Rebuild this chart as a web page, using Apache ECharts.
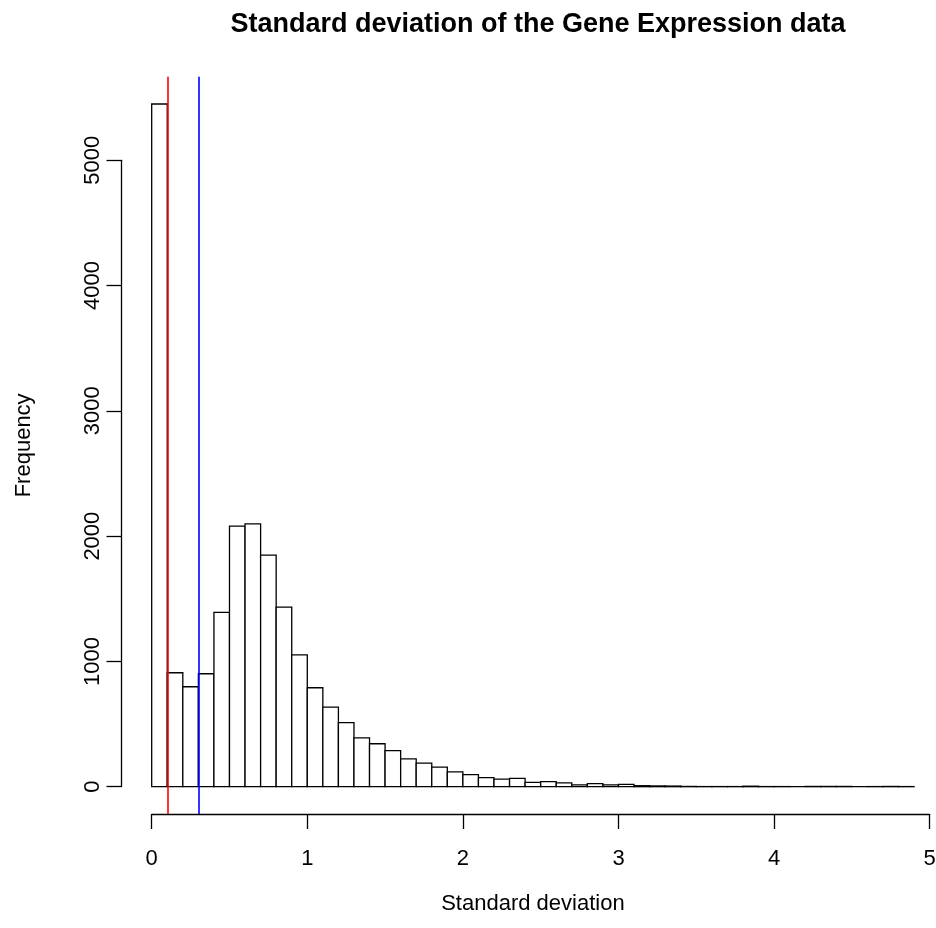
<!DOCTYPE html>
<html><head><meta charset="utf-8">
<script src="https://cdn.jsdelivr.net/npm/echarts@6/dist/echarts.min.js"></script>
<style>html,body{margin:0;padding:0;background:#fff}#c{width:936px;height:928px}</style>
</head><body><div id="c"></div>
<script>
// Histogram bins (bin width 0.1)
const binStarts = [0.0,0.1,0.2,0.3,0.4,0.5,0.6,0.7,0.8,0.9,1.0,1.1,1.2,1.3,1.4,1.5,1.6,1.7,1.8,1.9,2.0,2.1,2.2,2.3,2.4,2.5,2.6,2.7,2.8,2.9,3.0,3.1,3.2,3.3,3.4,3.5,3.6,3.7,3.8,3.9,4.0,4.1,4.2,4.3,4.4,4.5,4.6,4.7,4.8];
const binEnds   = [0.1,0.2,0.3,0.4,0.5,0.6,0.7,0.8,0.9,1.0,1.1,1.2,1.3,1.4,1.5,1.6,1.7,1.8,1.9,2.0,2.1,2.2,2.3,2.4,2.5,2.6,2.7,2.8,2.9,3.0,3.1,3.2,3.3,3.4,3.5,3.6,3.7,3.8,3.9,4.0,4.1,4.2,4.3,4.4,4.5,4.6,4.7,4.8,4.9];
const counts    = [5452,910,798,902,1392,2081,2099,1849,1434,1052,790,635,511,390,343,288,222,189,156,118,97,73,60,66,35,40,30,14,24,14,19,8,6,5,2,1,1,1,4,1,1,0,2,2,2,0,1,2,1];
const xTickValues = [0,1,2,3,4,5];
const yTickValues = [0,1000,2000,3000,4000,5000];
const cutoffs = [0.1, 0.3];
const cutoffColors = ['#FF0000', '#0000FF'];
const titleText = 'Standard deviation of the Gene Expression data';
const xLabel = 'Standard deviation';
const yLabel = 'Frequency';

const FONT = '"Liberation Sans", Arial, Helvetica, sans-serif';
const histData = binStarts.map((s, i) => [s, binEnds[i], counts[i]]);
const maxCount = Math.max(...counts);
const xLo = binStarts[0], xHi = binEnds[binEnds.length - 1];
const xPad = 0.04 * (xHi - xLo);
const yPad = 0.04 * maxCount;

const chart = echarts.init(document.getElementById('c'), null, {renderer: 'canvas'});
chart.setOption({
  backgroundColor: '#ffffff',
  animation: false,
  title: {
    text: titleText, left: 533, top: 6, textAlign: 'center',
    textStyle: {fontFamily: FONT, fontSize: 27, fontWeight: 'bold', color: '#000'}
  },
  grid: [
    {left: 121.2, width: 823.4, top: 76.7, height: 737.3, outerBoundsMode: 'none', containLabel: false},
    {left: 121.5, width: 100, top: 160.3, height: 626.4, outerBoundsMode: 'none', containLabel: false},
    {left: 151.7, width: 778, top: 76.7, height: 737.3, outerBoundsMode: 'none', containLabel: false}
  ],
  xAxis: [
    {gridIndex: 0, type: 'value', min: xLo - xPad, max: xHi + xPad,
     axisLine: {show: false}, axisTick: {show: false}, axisLabel: {show: false}, splitLine: {show: false},
     name: xLabel, nameLocation: 'middle', nameGap: 79,
     nameTextStyle: {fontFamily: FONT, fontSize: 22, color: '#000'}},
    {gridIndex: 1, type: 'value', show: false, min: 0, max: 1},
    {gridIndex: 2, type: 'value', min: xTickValues[0], max: xTickValues[xTickValues.length - 1], interval: 1,
     position: 'bottom',
     axisLine: {show: true, onZero: false, lineStyle: {color: '#000', width: 1.3}},
     axisTick: {show: true, length: 15, lineStyle: {color: '#000', width: 1.3}},
     axisLabel: {show: true, margin: 34, fontFamily: FONT, fontSize: 22, color: '#000', showMinLabel: true, showMaxLabel: true},
     splitLine: {show: false}}
  ],
  yAxis: [
    {gridIndex: 0, type: 'value', min: -yPad, max: maxCount + yPad,
     axisLine: {show: false}, axisTick: {show: false}, axisLabel: {show: false}, splitLine: {show: false},
     name: yLabel, nameLocation: 'middle', nameGap: 86, nameRotate: 90,
     nameTextStyle: {fontFamily: FONT, fontSize: 22, color: '#000'}},
    {gridIndex: 1, type: 'value', min: yTickValues[0], max: yTickValues[yTickValues.length - 1], interval: 1000,
     position: 'left',
     axisLine: {show: true, onZero: false, lineStyle: {color: '#000', width: 1.3}},
     axisTick: {show: true, length: 15, lineStyle: {color: '#000', width: 1.3}},
     axisLabel: {show: true, rotate: 90, margin: 18, fontFamily: FONT, fontSize: 22, color: '#000',
                 showMinLabel: true, showMaxLabel: true, formatter: v => String(v)},
     splitLine: {show: false}},
    {gridIndex: 2, type: 'value', show: false, min: 0, max: 1}
  ],
  series: [{
    type: 'custom',
    xAxisIndex: 0, yAxisIndex: 0,
    clip: false,
    data: histData,
    renderItem: function (params, api) {
      const p0 = api.coord([api.value(0), 0]);
      const p1 = api.coord([api.value(1), api.value(2)]);
      return {
        type: 'rect',
        shape: {x: p0[0], y: p1[1], width: p1[0] - p0[0], height: p0[1] - p1[1]},
        style: {fill: '#ffffff', stroke: '#000000', lineWidth: 1.3}
      };
    },
    markLine: {
      silent: true, symbol: ['none', 'none'], label: {show: false},
      data: cutoffs.map((v, i) => ({xAxis: v, lineStyle: {color: cutoffColors[i], width: 1.6, type: 'solid'}}))
    }
  }]
});
</script></body></html>
